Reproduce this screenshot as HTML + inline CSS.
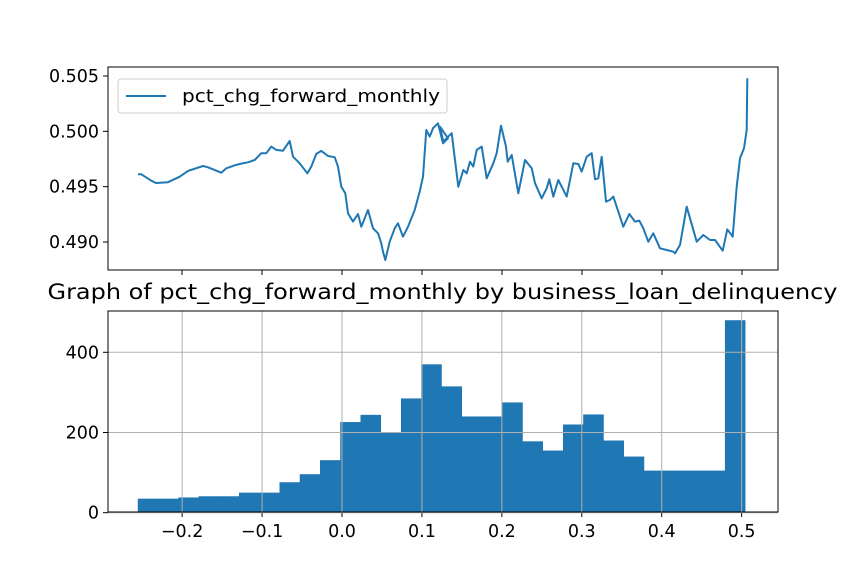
<!DOCTYPE html>
<html><head><meta charset="utf-8"><style>
body{margin:0;background:#fff;}
svg{display:block;font-family:"DejaVu Sans","Liberation Sans",sans-serif;}
</style></head><body>
<svg id="c" width="864" height="576" viewBox="0 0 864 576"></svg>
<script>
// ---- top line series data ----
const lineT = [0,3.3,13.3,18,30,41.7,50,65,70,83.3,88.3,96.7,103.3,110,116.7,123.3,128.3,133.3,138.3,145,151.7,155,161.7,169.3,173.3,178.3,183.3,190,196.7,200,203.3,207.3,210,215,220,223.3,230,235,240,243.3,245,247.3,251.7,256.7,260,265,270,276.7,281.7,285,288.3,291.7,295,300,305,310,
302,305.3,313.7,317,320.3,325.3,328.7,332,335.3,338.7,343.7,348.7,355.3,358.7,363,368,369.7,373.7,380.3,387,393.7,397,403.7,408.7,411.3,415.3,420.3,423.7,428.7,435.3,440.3,443.7,448.7,453.7,457,460.3,463.7,468,472,475.3,485.3,491.3,497,501.3,505.3,510.3,515.3,522,528.7,535.3,537,542,548.7,558.7,565.3,572,577,584.7,589.3,594.7,598.7,602,606,608.7,609.3];
const lineV = [0.49612,0.49612,0.49554,0.49533,0.4954,0.4959,0.49642,0.49687,0.49675,0.49626,0.49666,0.49693,0.49708,0.4972,0.49741,0.49802,0.49802,0.49862,0.49832,0.49825,0.49913,0.49771,0.49711,0.49621,0.49681,0.49796,0.49823,0.49777,0.49766,0.49681,0.495,0.4944,0.49259,0.49184,0.49253,0.49138,0.49289,0.49124,0.49079,0.48988,0.48912,0.48837,0.49003,0.49124,0.49169,0.49048,0.49138,0.49289,0.49455,0.4959,0.50012,0.49952,0.50028,0.50073,0.49892,0.49937,
0.50042,0.49907,0.49983,0.49741,0.495,0.49651,0.49621,0.49726,0.49681,0.49832,0.49862,0.49576,0.49711,0.49802,0.50051,0.49862,0.49726,0.49786,0.4944,0.49741,0.49666,0.49531,0.49395,0.49485,0.49567,0.4941,0.4956,0.495,0.4941,0.49711,0.49705,0.49636,0.49771,0.49802,0.49567,0.49576,0.49771,0.49364,0.4938,0.4941,0.49138,0.49253,0.49184,0.49193,0.49124,0.49003,0.49079,0.48943,0.48928,0.48912,0.48898,0.48973,0.49319,0.49003,0.49063,0.49018,0.49018,0.48921,0.49115,0.49048,0.495,0.49756,0.49847,0.50012,0.5048];
const topYTicks = [0.490,0.495,0.500,0.505];
const topYLabels = ["0.490","0.495","0.500","0.505"];
const topXTicks = [44,124,204,284,364,444,524,604];
// ---- histogram data ----
const binStart = -0.2555;
const binWidth = 0.02533;
const counts = [35,35,38,41,41,50,50,76,96,131,226,244,200,285,370,315,240,240,275,178,155,220,245,180,140,105,105,105,105,480];
const xTicks = [-0.2,-0.1,0.0,0.1,0.2,0.3,0.4,0.5];
const xTickLabels = ["\u22120.2","\u22120.1","0.0","0.1","0.2","0.3","0.4","0.5"];
const yTicks = [0,200,400];
const yTickLabels = ["0","200","400"];

const svg = document.getElementById('c');
const NS = 'http://www.w3.org/2000/svg';
function mk(tag, attrs, parent){const e=document.createElementNS(NS,tag);for(const k in attrs)e.setAttribute(k,attrs[k]);(parent||svg).appendChild(e);return e;}

const L=108,R=778;
const FS=17.5;
// top axes
const tT=67,tB=270;
const txs=t=>138+t;
const tys=v=>242-(v-0.490)*11067;
let g=mk('g',{});


let d='';
lineT.forEach((t,i)=>{d+=(i?'L':'M')+txs(t).toFixed(1)+','+tys(lineV[i]).toFixed(1);});
let p=mk('path',{d:d,fill:'none',stroke:'#1f77b4','stroke-width':2,'stroke-linejoin':'round'},g);


let fr=mk('rect',{x:L,y:tT,width:R-L,height:tB-tT,fill:'none',stroke:'#000','stroke-width':1},g);


topXTicks.forEach(t=>{mk('line',{x1:txs(t),x2:txs(t),y1:tB,y2:tB+5,stroke:'#000'},g);});
topYTicks.forEach((v,i)=>{const y=tys(v);mk('line',{x1:L-5,x2:L,y1:y,y2:y,stroke:'#000'},g);
 const tx=mk('text',{x:L-9,y:y+6,'text-anchor':'end','font-size':FS,fill:'#000',textLength:50,lengthAdjust:'spacingAndGlyphs'},g);tx.textContent=topYLabels[i];
 
 });
// legend
let lg=mk('g',{},g);


mk('rect',{x:118,y:79,width:329,height:34,rx:3,fill:'#fff',stroke:'#ccc','stroke-width':1},lg);
mk('line',{x1:126,x2:166,y1:96,y2:96,stroke:'#1f77b4','stroke-width':2},lg);
let lt=mk('text',{x:182,y:102,'font-size':FS,fill:'#000',textLength:258,lengthAdjust:'spacingAndGlyphs'},lg);lt.textContent='pct_chg_forward_monthly';



// bottom axes
const bT=311,bB=512;
const bx=v=>342+v*799.3;
const by=c=>512.7-c*0.401;
let hg=mk('g',{});


counts.forEach((c,i)=>{const x0=bx(binStart+i*binWidth),x1=bx(binStart+(i+1)*binWidth);
 const r=mk('rect',{x:x0,y:by(c),width:x1-x0+0.3,height:bB-by(c),fill:'#1f77b4'},hg);
 
 });
xTicks.forEach((v,i)=>{const x=bx(v);
 mk('line',{x1:x,x2:x,y1:bT,y2:bB,stroke:'#b0b0b0','stroke-width':1},hg);
 mk('line',{x1:x,x2:x,y1:bB,y2:bB+5,stroke:'#000'},hg);
 const t=mk('text',{x:x,y:bB+25,'text-anchor':'middle','font-size':FS,fill:'#000'},hg);t.textContent=xTickLabels[i];
 
 });
yTicks.forEach((v,i)=>{const y=by(v);
 mk('line',{x1:L,x2:R,y1:y,y2:y,stroke:'#b0b0b0','stroke-width':1},hg);
 mk('line',{x1:L-5,x2:L,y1:y,y2:y,stroke:'#000'},hg);
 const t=mk('text',{x:L-9,y:y+6,'text-anchor':'end','font-size':FS,fill:'#000'},hg);t.textContent=yTickLabels[i];
 
 });
let bf=mk('rect',{x:L,y:bT,width:R-L,height:bB-bT,fill:'none',stroke:'#000','stroke-width':1},hg);


let ti=mk('text',{x:442.5,y:299,'text-anchor':'middle','font-size':21,fill:'#000',textLength:790,lengthAdjust:'spacingAndGlyphs'});
ti.textContent='Graph of pct_chg_forward_monthly by business_loan_delinquency';


</script>
</body></html>
